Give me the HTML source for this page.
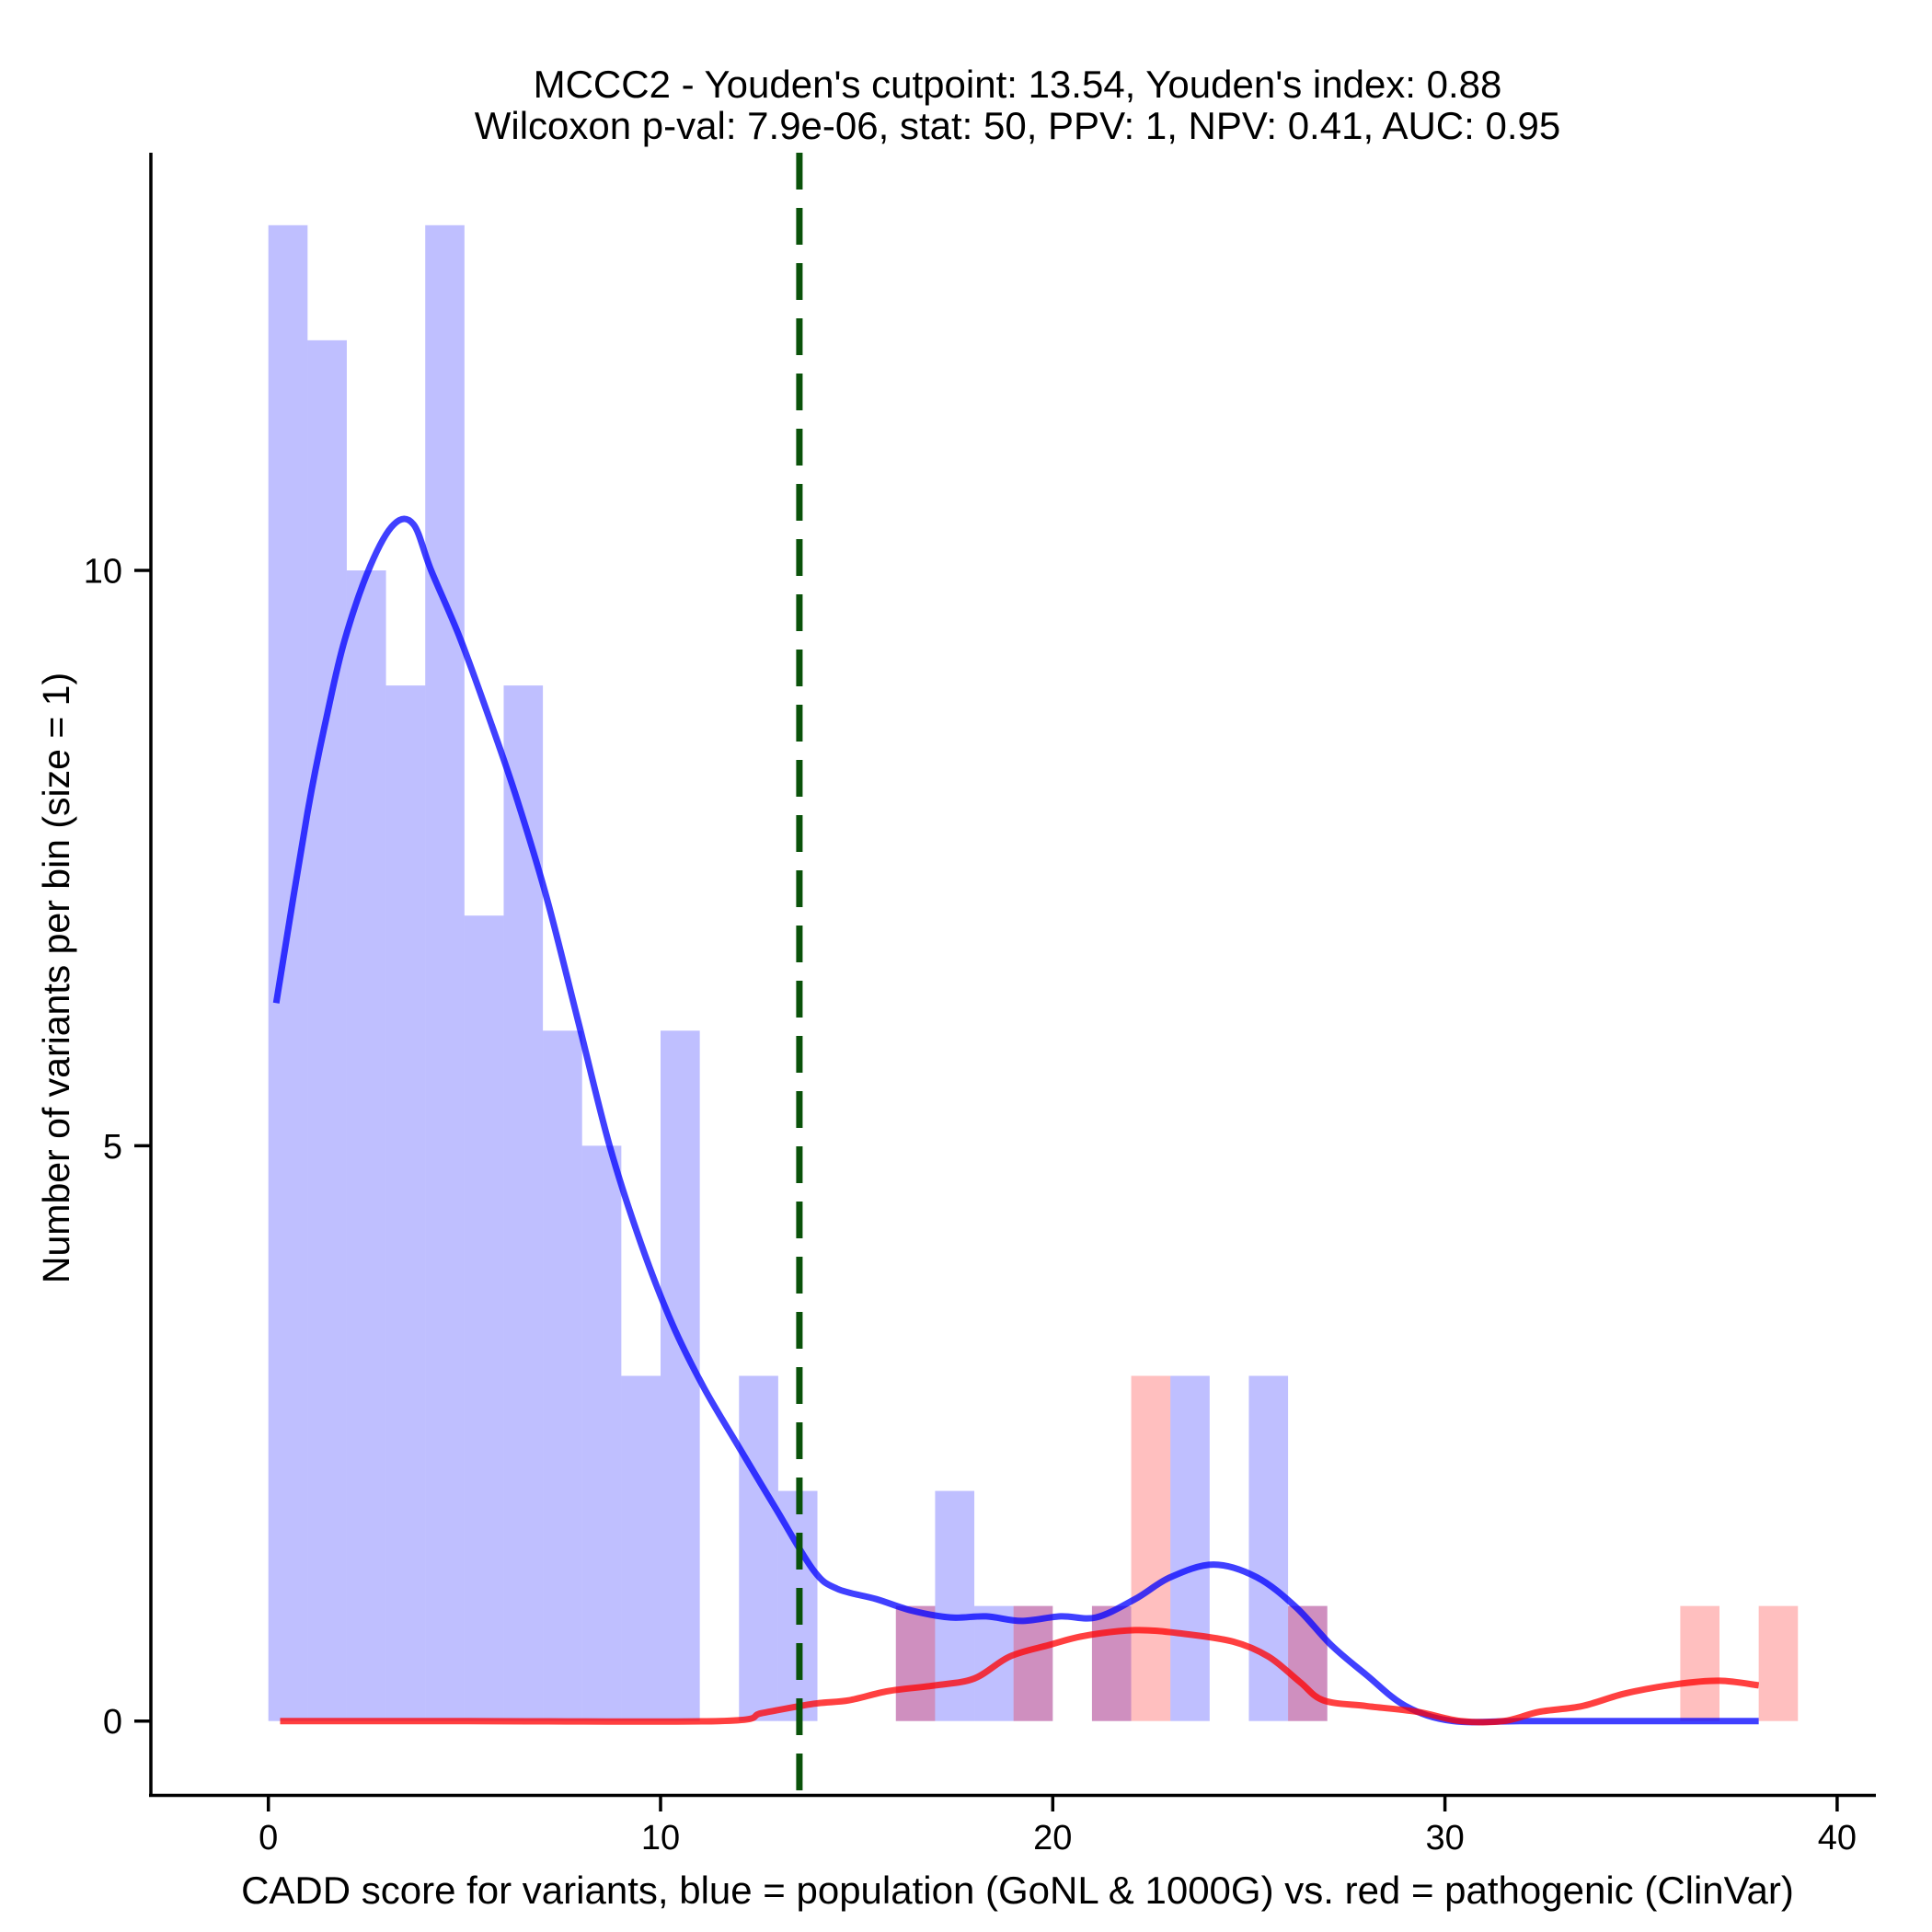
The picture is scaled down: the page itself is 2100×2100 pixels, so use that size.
<!DOCTYPE html>
<html><head><meta charset="utf-8"><style>html,body{margin:0;padding:0;background:#fff}svg{display:block}</style></head>
<body>
<svg id="chart" width="2100" height="2100" viewBox="0 0 2100 2100" xmlns="http://www.w3.org/2000/svg" font-family="'Liberation Sans', Arial, sans-serif">
<rect width="2100" height="2100" fill="#fff"/>
<text x="1106" y="106" font-size="42" text-anchor="middle">MCCC2 - Youden's cutpoint: 13.54, Youden's index: 0.88</text>
<text x="1106" y="151" font-size="42" text-anchor="middle">Wilcoxon p-val: 7.9e-06, stat: 50, PPV: 1, NPV: 0.41, AUC: 0.95</text>
<g id="bars"></g><g id="curves"></g><g id="axes"></g>
<text x="1106" y="2069" font-size="42" text-anchor="middle">CADD score for variants, blue = population (GoNL &amp; 1000G) vs. red = pathogenic (ClinVar)</text>
<text transform="translate(75,1063) rotate(-90)" font-size="41" text-anchor="middle">Number of variants per bin (size = 1)</text>
</svg>
<script>
const binStarts = [0,1,2,3,4,5,6,7,8,9,10,11,12,13,14,15,16,17,18,19,20,21,22,23,24,25,26,27,28,29,30,31,32,33,34,35,36,37,38];
const blueCounts = [13,12,10,9,13,7,9,6,5,3,6,0,3,2,0,0,1,2,1,1,0,1,0,3,0,3,1,0,0,0,0,0,0,0,0,0,0,0,0];
const redCounts  = [0,0,0,0,0,0,0,0,0,0,0,0,0,0,0,0,1,0,0,1,0,1,3,0,0,0,1,0,0,0,0,0,0,0,0,0,1,0,1];
const blueCurveX = [0.2,1.0,1.5,1.95,2.6,3.2,3.7,4.15,4.9,5.7,6.35,7.1,7.9,8.7,9.5,10.3,11.1,12.0,12.95,13.9,14.5,15.5,16.4,17.4,18.3,19.2,20.2,21.1,22.1,23.0,24.1,25.2,26.2,27.1,28.0,29.0,30.2,32,35,38];
const blueCurveY = [6.24,7.9,8.75,9.4,10.04,10.4,10.4,10.0,9.4,8.65,8.0,7.15,6.08,5.0,4.15,3.45,2.9,2.38,1.84,1.31,1.15,1.06,0.96,0.9,0.91,0.87,0.91,0.9,1.06,1.25,1.36,1.25,0.99,0.66,0.4,0.13,0,0,0,0];
const redCurveX = [0.3,5,11.5,12.6,13.9,14.8,15.8,17.0,18.0,18.9,19.9,20.8,22.1,23.3,24.6,25.5,26.3,26.9,28.0,29.3,30.4,31.5,32.4,33.5,34.6,35.9,37.0,38.0];
const redCurveY = [0,0,0,0.07,0.15,0.18,0.26,0.31,0.37,0.56,0.66,0.74,0.79,0.76,0.69,0.56,0.34,0.18,0.13,0.08,0,0,0.08,0.13,0.24,0.32,0.35,0.31];
const xTicks = [0,10,20,30,40];
const yTicks = [0,5,10];
const cutpoint = 13.54;

const NS='http://www.w3.org/2000/svg';
const xs = v => 291.7 + v*42.63;
const ys = v => 1870.7 - v*125.07;
function mk(tag, attrs, parent){const e=document.createElementNS(NS,tag);for(const k in attrs)e.setAttribute(k,attrs[k]);parent.appendChild(e);return e;}
const bars=document.getElementById('bars'), curves=document.getElementById('curves'), axes=document.getElementById('axes');
binStarts.forEach((b,i)=>{
  if(blueCounts[i]>0){const r=mk('rect',{x:xs(b),y:ys(blueCounts[i]),width:xs(b+1)-xs(b),height:ys(0)-ys(blueCounts[i]),fill:'#0000ff','fill-opacity':0.25},bars);
    
    }
  if(redCounts[i]>0){const r=mk('rect',{x:xs(b),y:ys(redCounts[i]),width:xs(b+1)-xs(b),height:ys(0)-ys(redCounts[i]),fill:'#ff0000','fill-opacity':0.25},bars);
    
    }
});
function smoothPath(X,Y){
  const P=X.map((x,i)=>[xs(x),ys(Y[i])]);
  let d='M'+P[0][0]+','+P[0][1];
  for(let i=0;i<P.length-1;i++){
    const p0=P[Math.max(0,i-1)],p1=P[i],p2=P[i+1],p3=P[Math.min(P.length-1,i+2)];
    const c1=[p1[0]+(p2[0]-p0[0])/6,p1[1]+(p2[1]-p0[1])/6];
    const c2=[p2[0]-(p3[0]-p1[0])/6,p2[1]-(p3[1]-p1[1])/6];
    d+=' C'+c1[0]+','+c1[1]+' '+c2[0]+','+c2[1]+' '+p2[0]+','+p2[1];
  }
  return d;
}
function line(X,Y,col,name){
  const p=mk('path',{d:smoothPath(X,Y),fill:'none',stroke:col,'stroke-width':7,'stroke-opacity':0.75,'stroke-linejoin':'round'},curves);
  
  
}
line(blueCurveX,blueCurveY,'#0000ff','blue-density-curve');
line(redCurveX,redCurveY,'#ff0000','red-density-curve');
const cl=mk('line',{x1:xs(cutpoint),x2:xs(cutpoint),y1:166,y2:1951,stroke:'#0a520a','stroke-width':7,'stroke-dasharray':'40,20'},curves);


const ya=mk('line',{x1:164,x2:164,y1:166,y2:1953,stroke:'#000','stroke-width':3.5},axes);


const xa=mk('line',{x1:162,x2:2039,y1:1951.5,y2:1951.5,stroke:'#000','stroke-width':3.5},axes);


xTicks.forEach(t=>{
  const l=mk('line',{x1:xs(t),x2:xs(t),y1:1951,y2:1969,stroke:'#000','stroke-width':3.5},axes);
  
  
  const tx=mk('text',{x:xs(t),y:2010,'font-size':38,'text-anchor':'middle'},axes);tx.textContent=t;
  
  
});
yTicks.forEach(t=>{
  const l=mk('line',{x1:146,x2:164,y1:ys(t),y2:ys(t),stroke:'#000','stroke-width':3.5},axes);
  
  
  const tx=mk('text',{x:133,y:ys(t)+13.5,'font-size':38,'text-anchor':'end'},axes);tx.textContent=t;
  
  
});
</script>
</body></html>
